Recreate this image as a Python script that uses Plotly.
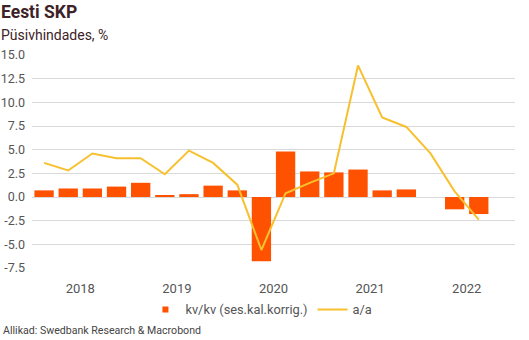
import plotly.graph_objects as go

quarters = ["2018Q1","2018Q2","2018Q3","2018Q4","2019Q1","2019Q2","2019Q3","2019Q4",
            "2020Q1","2020Q2","2020Q3","2020Q4","2021Q1","2021Q2","2021Q3","2021Q4",
            "2022Q1","2022Q2","2022Q3","2022Q4"]
qoq = [0.7, 0.9, 0.9, 1.1, 1.5, 0.2, 0.3, 1.2, 0.7, -6.8, 4.8, 2.7, 2.6, 2.9, 0.7, 0.8,
       None, -1.3, -1.8, None]
yoy = [3.6, 2.8, 4.6, 4.1, 4.1, 2.4, 4.9, 3.6, 1.3, -5.6, 0.4, 1.5, 2.5, 13.9, 8.4, 7.4,
       4.6, 0.6, -2.4, None]
year_labels = ["2018", "2019", "2020", "2021", "2022"]
y_ticks = [15, 12.5, 10, 7.5, 5, 2.5, 0, -2.5, -5, -7.5]

x = list(range(len(quarters)))
tickvals = [i * 4 + 1.5 for i in range(len(year_labels))]

BAR_COLOR = "#FF5200"
LINE_COLOR = "#F7C02E"
FONT = "Roboto"
L, R, T, B = 32, 14, 55, 72
PW, PH = 529 - L - R, 340 - T - B

fig = go.Figure()
fig.add_trace(go.Bar(x=x, y=qoq, name="kv/kv (ses.kal.korrig.)", showlegend=False,
                     marker=dict(color=BAR_COLOR, line=dict(width=0))))
# legend proxy for bars (small square symbol, as in the reference)
fig.add_trace(go.Scatter(x=[None], y=[None], mode="markers", name="kv/kv (ses.kal.korrig.)",
                         marker=dict(symbol="square", size=6, color=BAR_COLOR)))
fig.add_trace(go.Scatter(x=x, y=yoy, name="a/a", mode="lines",
                         line=dict(color=LINE_COLOR, width=2)))

fig.update_layout(
    width=529, height=340,
    margin=dict(l=L, r=R, t=T, b=B, autoexpand=False),
    paper_bgcolor="white", plot_bgcolor="white",
    font=dict(family=FONT, color="#555555", size=12),
    bargap=0.2,
    showlegend=True,
    legend=dict(orientation="h", x=0.475, xanchor="center", y=-0.125, yanchor="top",
                font=dict(size=12.8, color="#555555"), itemwidth=30,
                traceorder="normal", tracegroupgap=0),
    xaxis=dict(range=[-0.5, 19.5], tickvals=tickvals, ticktext=year_labels,
               showgrid=False, zeroline=False, showline=False, ticks="",
               automargin=False, ticklabelstandoff=11,
               tickfont=dict(size=13, color="#555555")),
    yaxis=dict(range=[-7.5, 15], tickvals=y_ticks,
               ticktext=[f"{v:.1f}" for v in y_ticks],
               showgrid=True, gridcolor="#D9D9D9", gridwidth=1,
               zeroline=True, zerolinecolor="#D9D9D9", zerolinewidth=1,
               ticks="", automargin=False,
               tickfont=dict(size=12.5, color="#555555"), ticklabelstandoff=6),
    annotations=[
        dict(text="<b>Eesti SKP</b>", x=-L / PW, y=1 + T / PH, xref="paper", yref="paper",
             xanchor="left", yanchor="top", showarrow=False, xshift=-1,
             font=dict(size=17.5, color="#3D2328", family=FONT)),
        dict(text="Püsivhindades, %", x=-L / PW, y=1 + T / PH, xref="paper", yref="paper",
             xanchor="left", yanchor="top", yshift=-25, showarrow=False, xshift=-1,
             font=dict(size=14, color="#3D2328", family=FONT)),
        dict(text="Allikad: Swedbank Research & Macrobond", x=-L / PW, y=-B / PH,
             xref="paper", yref="paper", xanchor="left", yanchor="bottom",
             yshift=1, showarrow=False, xshift=1,
             font=dict(size=10.6, color="#444444", family=FONT)),
    ],
)

fig.write_html("out.html")
